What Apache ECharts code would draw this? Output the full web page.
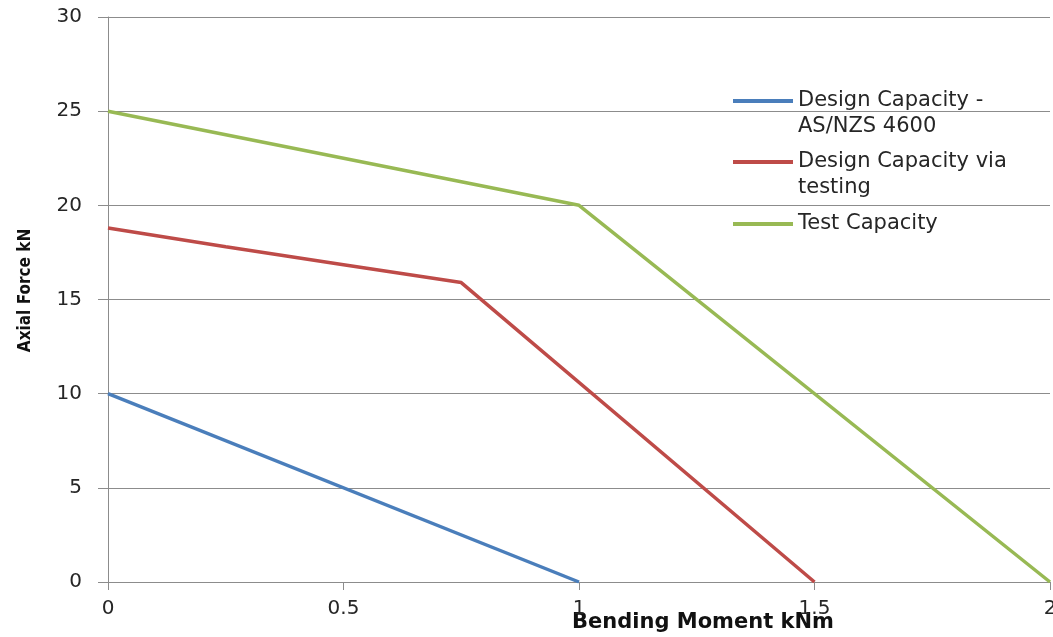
<!DOCTYPE html>
<html>
<head>
<meta charset="utf-8">
<title>Axial Force vs Bending Moment</title>
<script src="https://cdn.jsdelivr.net/npm/echarts@6/dist/echarts.min.js"></script>
<style>
  html, body { margin: 0; padding: 0; background: #ffffff; }
  #chart { width: 1053px; height: 637px; }
</style>
</head>
<body>
<div id="chart"></div>
<script>
// Interaction curves: [bending moment kNm, axial force kN]
const seriesNames = [
  'Design Capacity -\nAS/NZS 4600',
  'Design Capacity via\ntesting',
  'Test Capacity'
];
const designCodeCurve = [[0, 10], [1, 0]];
const designTestCurve = [[0, 18.8], [0.25, 17.8], [0.5, 16.85], [0.75, 15.9], [1.5, 0]];
const testCurve = [[0, 25], [1, 20], [2, 0]];
const seriesColors = ['#4A7EBB', '#BE4B48', '#98B954'];

const xAxisTitle = 'Bending Moment kNm';
const yAxisTitle = 'Axial Force kN';

const gridColor = '#8c8c8c';
const labelColor = '#262626';

const chart = echarts.init(document.getElementById('chart'), null, { renderer: 'canvas' });

// one legend block per series, with the swatch lined up on the first text line
function legendBlock(name, top) {
  return {
    data: [name],
    orient: 'vertical',
    left: 733,
    top: top,
    padding: 0,
    icon: 'rect',
    itemWidth: 60,
    itemHeight: 4,
    itemGap: 0,
    formatter: n => (n.indexOf('\n') >= 0 ? '\n' + n : n),
    textStyle: {
      fontFamily: 'DejaVu Sans',
      fontSize: 21,
      lineHeight: 26,
      color: labelColor
    }
  };
}

const datasets = [designCodeCurve, designTestCurve, testCurve];

chart.setOption({
  animation: false,
  backgroundColor: '#ffffff',
  grid: { left: 108, right: 3, top: 17, bottom: 55, containLabel: false, outerBoundsMode: 'none' },
  legend: [
    legendBlock(seriesNames[0], 62),
    legendBlock(seriesNames[1], 123),
    legendBlock(seriesNames[2], 211)
  ],
  xAxis: {
    type: 'value',
    min: 0,
    max: 2,
    interval: 0.5,
    name: xAxisTitle,
    nameLocation: 'middle',
    nameGap: 30,
    nameMoveOverlap: false,
    nameTextStyle: {
      fontFamily: 'DejaVu Sans',
      fontWeight: 'bold',
      fontSize: 21,
      color: '#111111',
      padding: [0, 0, 0, 248]
    },
    axisLine: { show: true, lineStyle: { color: gridColor, width: 1 } },
    axisTick: { show: true, length: 8, lineStyle: { color: gridColor } },
    axisLabel: {
      margin: 17,
      fontFamily: 'DejaVu Sans',
      fontSize: 20,
      color: labelColor,
      formatter: v => String(v)
    },
    splitLine: { show: false }
  },
  yAxis: {
    type: 'value',
    min: 0,
    max: 30,
    interval: 5,
    name: yAxisTitle,
    nameLocation: 'middle',
    nameRotate: 90,
    nameGap: 74,
    nameMoveOverlap: false,
    nameTextStyle: {
      fontFamily: "'Liberation Sans Narrow', 'DejaVu Sans Condensed', sans-serif",
      fontWeight: 'bold',
      fontSize: 17,
      color: '#111111',
      padding: [0, 0, 0, 18]
    },
    axisLine: { show: true, lineStyle: { color: gridColor, width: 1 } },
    axisTick: { show: true, length: 10, lineStyle: { color: gridColor } },
    axisLabel: {
      margin: 26,
      fontFamily: 'DejaVu Sans',
      fontSize: 20,
      color: labelColor
    },
    splitLine: { show: true, lineStyle: { color: gridColor, width: 1 } }
  },
  series: datasets.map((d, i) => ({
    name: seriesNames[i],
    type: 'line',
    data: d,
    showSymbol: false,
    symbol: 'none',
    color: seriesColors[i],
    lineStyle: { width: 3.5, color: seriesColors[i] },
    z: 3 + i
  }))
});
</script>
</body>
</html>
